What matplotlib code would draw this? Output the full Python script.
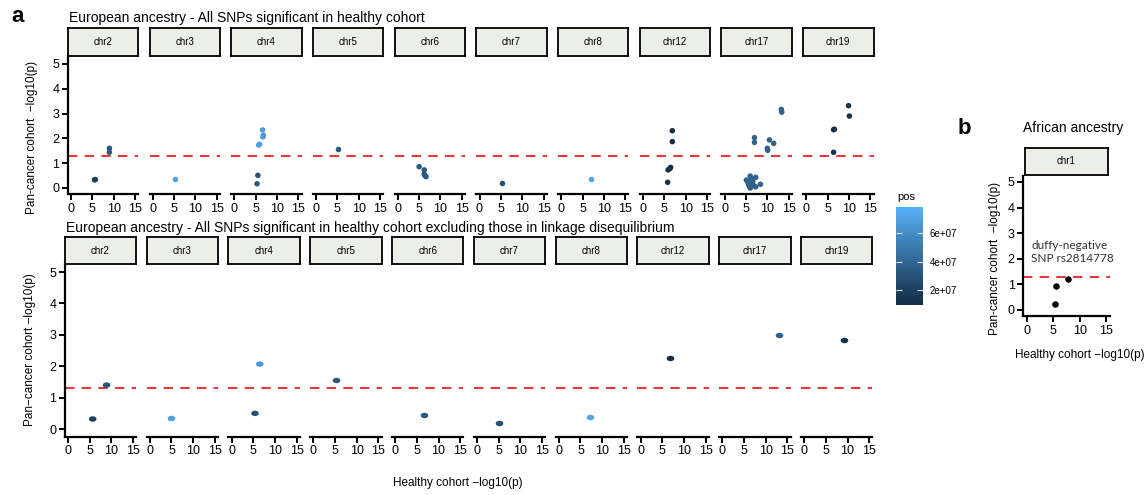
import numpy as np
import matplotlib
matplotlib.use("Agg")
import matplotlib.pyplot as plt
from matplotlib.colors import LinearSegmentedColormap, Normalize
from matplotlib.cm import ScalarMappable

plt.rcParams["font.family"] = ["Liberation Sans", "DejaVu Sans"]

# ---- data ------------------------------------------------------------------
chromosomes = ["chr2", "chr3", "chr4", "chr5", "chr6", "chr7", "chr8", "chr12", "chr17", "chr19"]

# panel a, top: all SNPs significant in the healthy cohort
top_chrom = (["chr2"] * 4 + ["chr3"] + ["chr4"] * 7 + ["chr5"] + ["chr6"] * 5 + ["chr7"] + ["chr8"]
             + ["chr12"] * 6 + ["chr17"] * 24 + ["chr19"] * 5)
top_x = [5.5, 5.7, 9.0, 9.0,
         5.2,
         6.6, 6.8, 6.7, 5.9, 5.7, 5.5, 5.3,
         5.2,
         5.0, 6.2, 6.2, 6.6, 6.4,
         5.2,
         7.0,
         6.9, 6.9, 6.5, 6.3, 5.9, 5.8,
         13.3, 13.4, 7.0, 7.0, 10.5, 11.5, 10.0, 10.1,
         5.1, 6.0, 7.3, 5.4, 5.6, 5.8, 6.1, 6.3, 6.5, 6.8, 7.3, 8.4, 6.0, 6.3, 5.9, 6.6,
         9.9, 10.1, 6.6, 6.4, 6.4]
top_y = [0.33, 0.34, 1.60, 1.44,
         0.36,
         2.34, 2.13, 2.06, 1.76, 1.73, 0.51, 0.17,
         1.57,
         0.86, 0.73, 0.56, 0.46, 0.50,
         0.21,
         0.38,
         2.31, 1.87, 0.83, 0.78, 0.73, 0.23,
         3.17, 3.06, 2.03, 1.84, 1.94, 1.80, 1.60, 1.52,
         0.32, 0.48, 0.43, 0.25, 0.15, 0.08, 0.30, 0.38, 0.20, 0.10, 0.05, 0.15, 0.00, 0.12, 0.22, 0.28,
         3.32, 2.90, 2.37, 2.35, 1.44]
top_pos = [2.0e7, 2.0e7, 3.2e7, 3.2e7,
           7.0e7,
           6.8e7, 6.6e7, 6.6e7, 6.8e7, 6.8e7, 3.0e7, 3.2e7,
           3.3e7,
           3.2e7, 3.2e7, 3.2e7, 3.2e7, 3.2e7,
           2.8e7,
           7.2e7,
           1.1e7, 1.1e7, 1.2e7, 1.2e7, 1.2e7, 1.2e7,
           3.8e7, 3.8e7, 3.8e7, 3.8e7, 3.8e7, 3.8e7, 3.8e7, 3.8e7,
           3.8e7, 3.8e7, 3.8e7, 3.8e7, 3.8e7, 3.8e7, 3.8e7, 3.8e7, 3.8e7, 3.8e7, 3.8e7, 3.8e7, 3.8e7, 3.8e7, 3.8e7, 3.8e7,
           1.3e7, 1.3e7, 1.3e7, 1.3e7, 1.2e7]

# panel a, bottom: excluding SNPs in linkage disequilibrium
bottom_chrom = ["chr2", "chr2", "chr3", "chr4", "chr4", "chr5", "chr6", "chr7", "chr8", "chr12", "chr17", "chr19"]
bottom_x = [5.7, 8.9, 5.0, 6.5, 5.4, 5.2, 6.7, 5.1, 7.3, 6.7, 13.0, 9.3]
bottom_y = [0.32, 1.40, 0.34, 2.07, 0.50, 1.56, 0.44, 0.20, 0.38, 2.27, 3.01, 2.83]
bottom_pos = [2.0e7, 3.2e7, 7.0e7, 6.6e7, 3.0e7, 3.3e7, 3.2e7, 2.8e7, 7.2e7, 1.1e7, 3.8e7, 1.3e7]

# panel b: African ancestry, chr1
afr_x = [5.3, 5.6, 7.7]
afr_y = [0.22, 0.93, 1.22]

threshold = -np.log10(0.05)
pos_min, pos_max = 0.94e7, 7.84e7
pos_ticks = [2e7, 4e7, 6e7]
pos_ticklabels = ["2e+07", "4e+07", "6e+07"]

# ---- layout helpers --------------------------------------------------------
W, H = 1148, 495
fig = plt.figure(figsize=(W / 100, H / 100), dpi=100)
cmap = LinearSegmentedColormap.from_list("gg", ["#132B43", "#56B1F7"])
norm = Normalize(pos_min, pos_max)
STRIP_FILL = "#ECEEE8"
RED = "#E5383B"
TICK_SIZE = 9


def rect(left, top, width, height):
    return [left / W, 1 - (top + height) / H, width / W, height / H]


def fig_text(x, y, s, **kw):
    return fig.text(x / W, 1 - y / H, s, **kw)


def add_strip(left, top, width, height, label):
    sax = fig.add_axes(rect(left, top, width, height))
    sax.set_facecolor(STRIP_FILL)
    sax.set_xticks([])
    sax.set_yticks([])
    for sp in sax.spines.values():
        sp.set_linewidth(1.3)
        sp.set_color("black")
    sax.text(0.5, 0.5, label, ha="center", va="center", fontsize=7, transform=sax.transAxes)


def style_panel(ax, show_y):
    ax.set_xlim(-0.75, 15.75)
    ax.set_ylim(-0.25, 5.25)
    ax.set_xticks([0, 5, 10, 15])
    ax.set_yticks([0, 1, 2, 3, 4, 5])
    for side in ("top", "right"):
        ax.spines[side].set_visible(False)
    ax.spines["bottom"].set_linewidth(1.6)
    ax.spines["left"].set_linewidth(1.6)
    ax.spines["left"].set_visible(show_y)
    ax.tick_params(axis="x", length=4, width=1.4, labelsize=TICK_SIZE, pad=2)
    ax.tick_params(axis="y", length=4, width=1.4, labelsize=TICK_SIZE, pad=2, left=show_y, labelleft=show_y)
    ax.axhline(threshold, color=RED, lw=1.5, linestyle=(0, (4.5, 3.5)), zorder=1)


# elliptical marker for the lower row (points look stretched there)
theta = np.linspace(0, 2 * np.pi, 40)
ellipse = np.column_stack([np.cos(theta), 0.72 * np.sin(theta)])


def draw_row(chrom, xs, ys, pos, left0, step, width, top, height, strip_top, strip_h, marker, size):
    chrom = np.array(chrom)
    xs, ys, pos = np.array(xs), np.array(ys), np.array(pos)
    for i, c in enumerate(chromosomes):
        left = left0 + step * i
        ax = fig.add_axes(rect(left, top, width, height))
        style_panel(ax, i == 0)
        m = chrom == c
        ax.scatter(xs[m], ys[m], c=pos[m], cmap=cmap, norm=norm, s=size, marker=marker,
                   linewidths=0, zorder=3)
        add_strip(left, strip_top, width, strip_h, c)


draw_row(top_chrom, top_x, top_y, top_pos, 67.8, 81.7, 70.4, 57.8, 136.4, 28, 28, "o", 16)
draw_row(bottom_chrom, bottom_x, bottom_y, bottom_pos, 64.8, 81.8, 71.4, 264.2, 172.7, 237, 27, ellipse, 30)

fig_text(32, 137, "Pan-cancer cohort  \u2212log10(p)", fontsize=8.5, rotation=90, ha="center", va="center")
fig_text(30, 350, "Pan\u2212cancer cohort \u2212log10(p)", fontsize=8.5, rotation=90, ha="center", va="center")
fig_text(69, 18, "European ancestry - All SNPs significant in healthy cohort",
         fontsize=10, va="center", ha="left")
fig_text(66, 228,
         "European ancestry - All SNPs significant in healthy cohort excluding those in linkage disequilibrium",
         fontsize=10, va="center", ha="left")
fig_text(458, 483, "Healthy cohort \u2212log10(p)", fontsize=8.5, ha="center", va="center")
fig_text(11, 17, "a", fontsize=16, fontweight="bold", va="center", ha="left")

# colour bar for position
cax = fig.add_axes(rect(896, 207, 27, 98))
cbar = fig.colorbar(ScalarMappable(norm=norm, cmap=cmap), cax=cax)
cbar.outline.set_visible(False)
cbar.set_ticks(pos_ticks)
cbar.set_ticklabels(pos_ticklabels)
cax.tick_params(left=True, right=True, labelleft=False, labelright=True, direction="in",
                color="#DDDDDD", length=4, width=0.8, labelsize=7, pad=5)
fig_text(897, 197, "pos", fontsize=8, ha="left", va="center")

# panel b
bx = fig.add_axes(rect(1023, 175.6, 87, 140.8))
style_panel(bx, True)
bx.scatter(afr_x, afr_y, color="black", s=22, linewidths=0, zorder=3)
bx.text(0.8, 2.27, "duffy-negative\nSNP rs2814778", fontsize=8.5, color="#333333",
        family=["Lato", "DejaVu Sans"], ha="left", va="center", linespacing=1.2)
add_strip(1025, 148, 83, 27, "chr1")
fig_text(995, 258, "Pan-cancer cohort  \u2212log10(p)", fontsize=8.5, rotation=90, ha="center", va="center")
fig_text(1080, 355, "Healthy cohort \u2212log10(p)", fontsize=8.5, ha="center", va="center")
fig_text(1023, 128, "African ancestry", fontsize=10, ha="left", va="center")
fig_text(958, 128, "b", fontsize=16, fontweight="bold", ha="left", va="center")

fig.savefig("out.png", dpi=100)
